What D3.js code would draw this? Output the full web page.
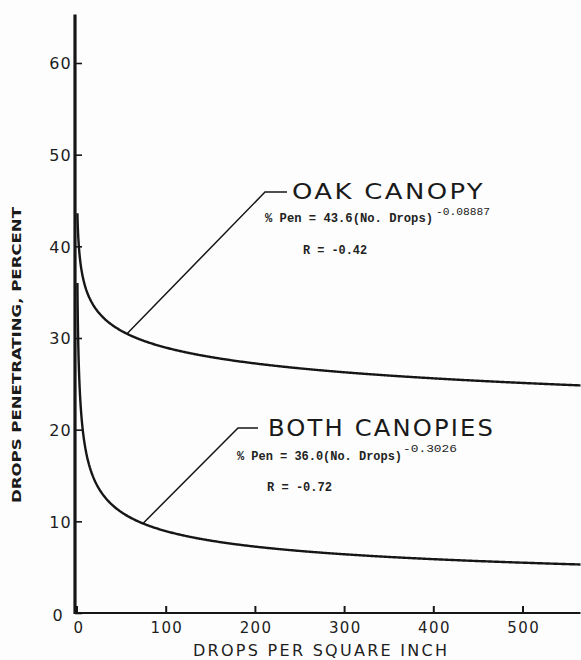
<!DOCTYPE html>
<html>
<head>
<meta charset="utf-8">
<script src="https://cdn.jsdelivr.net/npm/d3@7"></script>
<style>
  html, body { margin: 0; padding: 0; background: #fdfdfd; }
  svg { display: block; }
</style>
</head>
<body>
<svg id="chart" width="581" height="660"></svg>
<script>
// Fitted power curves: % Pen = a * (No. Drops)^b
const seriesNames = ["OAK CANOPY", "BOTH CANOPIES"];
const coefA = [43.6, 36.0];
const coefB = [-0.08887, -0.3026];
const coefText = ["43.6", "36.0"];
const expText = ["-0.08887", "-0.3026"];
const rValues = ["-0.42", "-0.72"];
// drop density where each label's leader touches its curve
const leaderAt = [56.6, 74.5];

const xTicks = [0, 100, 200, 300, 400, 500];
const yTicks = [0, 10, 20, 30, 40, 50, 60];
const xMax = 565;
const yMax = 65.3;

const ink = "#161616";
const svg = d3.select("#chart");

const x = d3.scaleLinear().domain([0, 500]).range([76.5, 522.5]);
const y = d3.scaleLinear().domain([0, 60]).range([613, 63]);

// axes
const xAxis = d3.axisBottom(x).tickValues(xTicks).tickSizeInner(-7).tickSizeOuter(0).tickPadding(9)
  .tickFormat(d3.format("d"));
const gx = svg.append("g").attr("transform", `translate(0,${y(0)})`).call(xAxis);
gx.select(".domain").remove();
gx.selectAll(".tick line").attr("stroke", ink).attr("stroke-width", 2);
gx.selectAll(".tick text")
  .attr("fill", "#1e1e1e").attr("font-family", "DejaVu Sans, sans-serif")
  .attr("font-size", 15).attr("letter-spacing", 1.4)
  .attr("dx", d => d === 0 ? 2 : 0.7);

const yAxis = d3.axisLeft(y).tickValues(yTicks).tickSizeInner(-7).tickSizeOuter(0).tickPadding(3)
  .tickFormat(d3.format("d"));
const gy = svg.append("g").attr("transform", `translate(${x(0) - 1.5},0)`).call(yAxis);
gy.select(".domain").remove();
gy.selectAll(".tick line").attr("stroke", ink).attr("stroke-width", 1.6);
gy.selectAll(".tick text")
  .attr("fill", "#1e1e1e").attr("font-family", "DejaVu Sans, sans-serif")
  .attr("font-size", 16).attr("letter-spacing", 1.2)
  .attr("dy", d => d === 0 ? "0.45em" : "0.36em")
  .attr("dx", d => d === 0 ? -8 : 0);

// axis lines
svg.append("line")
  .attr("x1", x(0)).attr("x2", x(xMax))
  .attr("y1", y(0)).attr("y2", y(0))
  .attr("stroke", ink).attr("stroke-width", 2.2);
svg.append("line")
  .attr("x1", x(0) - 1.5).attr("x2", x(0) - 1.5)
  .attr("y1", y(0) + 1).attr("y2", y(yMax))
  .attr("stroke", ink).attr("stroke-width", 3.2);

// curves
const xs = d3.range(1, 10, 0.25).concat(d3.range(10, xMax + 1, 1));
const line = d3.line().x(d => x(d[0])).y(d => y(d[1]));
seriesNames.forEach((name, i) => {
  const pts = xs.map(v => [v, coefA[i] * Math.pow(v, coefB[i])]);
  svg.append("path")
    .attr("d", line(pts))
    .attr("fill", "none").attr("stroke", ink).attr("stroke-width", 2.4);
});

// labels with leader lines
const labelLayout = [
  { elbow: [265, 192], end: 287, title: [292, 199, 193, 22], eq: [265, 222, 168], ex: [436, 215, 54], r: [303, 254, 64] },
  { elbow: [238, 428], end: 258, title: [268, 436, 227, 22.5], eq: [237, 460, 165], ex: [403, 452, 54], r: [267, 491, 65] }
];
const mono = "Liberation Mono, DejaVu Sans Mono, monospace";
seriesNames.forEach((name, i) => {
  const L = labelLayout[i];
  const px = x(leaderAt[i]);
  const py = y(coefA[i] * Math.pow(leaderAt[i], coefB[i]));
  svg.append("polyline")
    .attr("points", [[px, py], L.elbow, [L.end, L.elbow[1]]].map(p => p.join(",")).join(" "))
    .attr("fill", "none").attr("stroke", ink).attr("stroke-width", 1.5);
  svg.append("text")
    .attr("x", L.title[0]).attr("y", L.title[1])
    .attr("font-family", "DejaVu Sans, sans-serif").attr("font-size", L.title[3])
    .attr("fill", "#1a1a1a").attr("letter-spacing", 2)
    .attr("textLength", L.title[2]).attr("lengthAdjust", "spacingAndGlyphs")
    .text(name);
  svg.append("text")
    .attr("x", L.eq[0]).attr("y", L.eq[1])
    .attr("font-family", mono).attr("font-size", 12.5)
    .attr("font-weight", "bold").attr("fill", "#222")
    .attr("textLength", L.eq[2]).attr("lengthAdjust", "spacingAndGlyphs")
    .text(`% Pen = ${coefText[i]}(No. Drops)`);
  svg.append("text")
    .attr("x", L.ex[0]).attr("y", L.ex[1])
    .attr("font-family", mono).attr("font-size", 11)
    .attr("fill", "#222")
    .attr("textLength", L.ex[2]).attr("lengthAdjust", "spacingAndGlyphs")
    .text(expText[i]);
  svg.append("text")
    .attr("x", L.r[0]).attr("y", L.r[1])
    .attr("font-family", mono).attr("font-size", 12.5)
    .attr("font-weight", "bold").attr("fill", "#222")
    .attr("textLength", L.r[2]).attr("lengthAdjust", "spacingAndGlyphs")
    .text(`R = ${rValues[i]}`);
});

// axis titles
svg.append("text")
  .attr("x", 320).attr("y", 656)
  .attr("text-anchor", "middle")
  .attr("font-family", "DejaVu Sans, sans-serif").attr("font-size", 16)
  .attr("fill", "#1e1e1e")
  .attr("textLength", 254).attr("lengthAdjust", "spacing")
  .text("DROPS PER SQUARE INCH");
svg.append("text")
  .attr("transform", "translate(21,355) rotate(-90)")
  .attr("text-anchor", "middle")
  .attr("font-family", "DejaVu Sans Condensed, DejaVu Sans, sans-serif").attr("font-size", 12.5)
  .attr("font-weight", "bold").attr("fill", "#1a1a1a")
  .attr("textLength", 296).attr("lengthAdjust", "spacingAndGlyphs")
  .text("DROPS PENETRATING, PERCENT");
</script>
</body>
</html>
